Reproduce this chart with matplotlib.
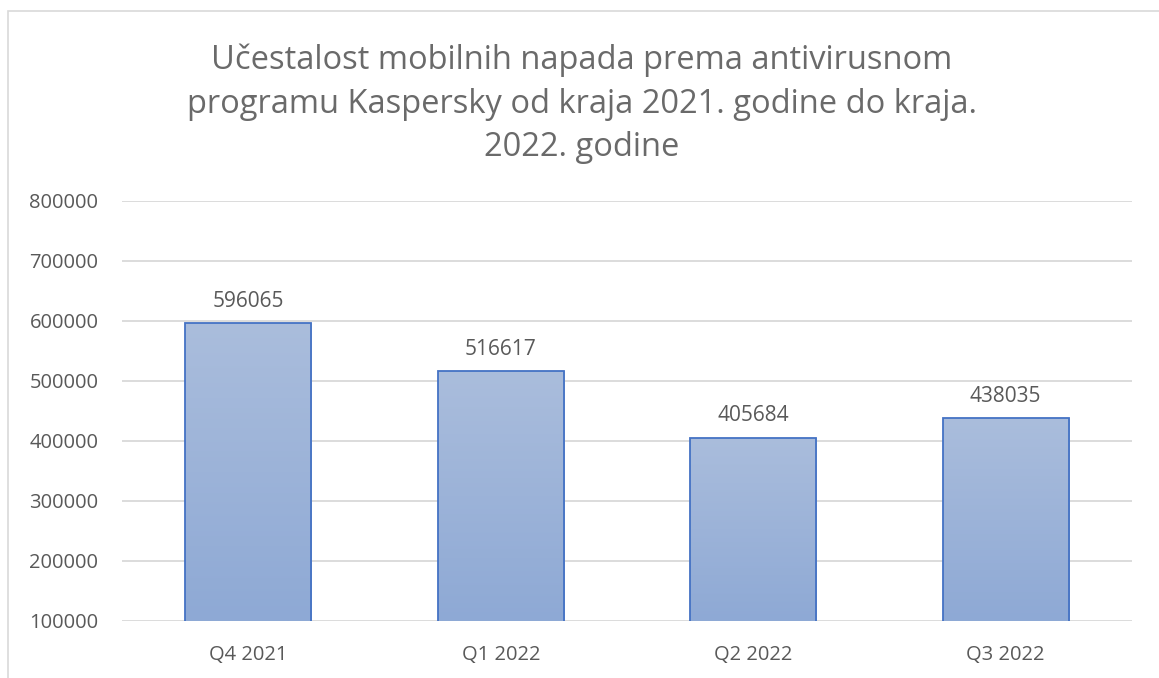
import matplotlib.pyplot as plt
import numpy as np
from matplotlib.colors import LinearSegmentedColormap
from matplotlib.patches import Rectangle

plt.rcParams['font.family'] = ['Open Sans', 'DejaVu Sans']

# podaci
kvartali = ['Q4 2021', 'Q1 2022', 'Q2 2022', 'Q3 2022']
napadi = [596065, 516617, 405684, 438035]
y_ticks = [100000, 200000, 300000, 400000, 500000, 600000, 700000, 800000]

naslov = ('Učestalost mobilnih napada prema antivirusnom\n'
          'programu Kaspersky od kraja 2021. godine do kraja.\n'
          '2022. godine')

tekst_boja = '#595959'
grad = LinearSegmentedColormap.from_list('grad', ['#8EA9D5', '#AABDDC'])

fig = plt.figure(figsize=(11.59, 6.78), dpi=100)
# okvir grafikona
fig.patches.append(Rectangle((8 / 1159, -0.01), 1.0, 1 - 11 / 678 + 0.01,
                             transform=fig.transFigure, fill=False,
                             edgecolor='#D9D9D9', linewidth=1.2))

ax = fig.add_axes([122 / 1159, 1 - 621 / 678, (1132 - 122) / 1159, (621 - 201) / 678])

x = np.arange(len(kvartali))
bars = ax.bar(x, napadi, width=0.5, bottom=0, facecolor='none',
              edgecolor='#4472C4', linewidth=1.3, zorder=3)

gradijent = np.linspace(0, 1, 256).reshape(-1, 1)
for b in bars:
    x0, w = b.get_x(), b.get_width()
    im = ax.imshow(gradijent, cmap=grad, aspect='auto', origin='lower',
                   extent=[x0, x0 + w, y_ticks[0], b.get_height()], zorder=2)
    im.set_clip_path(b)
    ax.annotate(str(b.get_height()), (x0 + w / 2, b.get_height()),
                xytext=(0, 8), textcoords='offset points',
                ha='center', va='bottom', fontsize=15, color=tekst_boja)

ax.set_xlim(-0.5, len(kvartali) - 0.5)
ax.set_ylim(y_ticks[0], y_ticks[-1])
ax.set_yticks(y_ticks)
ax.set_yticklabels([str(v) for v in y_ticks])
ax.set_xticks(x)
ax.set_xticklabels(kvartali)
ax.tick_params(axis='both', length=0, labelsize=14.5, labelcolor=tekst_boja)
ax.tick_params(axis='y', pad=17)
ax.tick_params(axis='x', pad=17)
ax.grid(axis='y', color='#D9D9D9', linewidth=1.3, zorder=0)
ax.set_axisbelow(True)
for s in ax.spines.values():
    s.set_visible(False)

fig.text(582 / 1159, 1 - 104 / 678, naslov, ha='center', va='center',
         fontsize=23.5, color='#6A6A6A', linespacing=1.43)

fig.savefig('out.png', dpi=100)
